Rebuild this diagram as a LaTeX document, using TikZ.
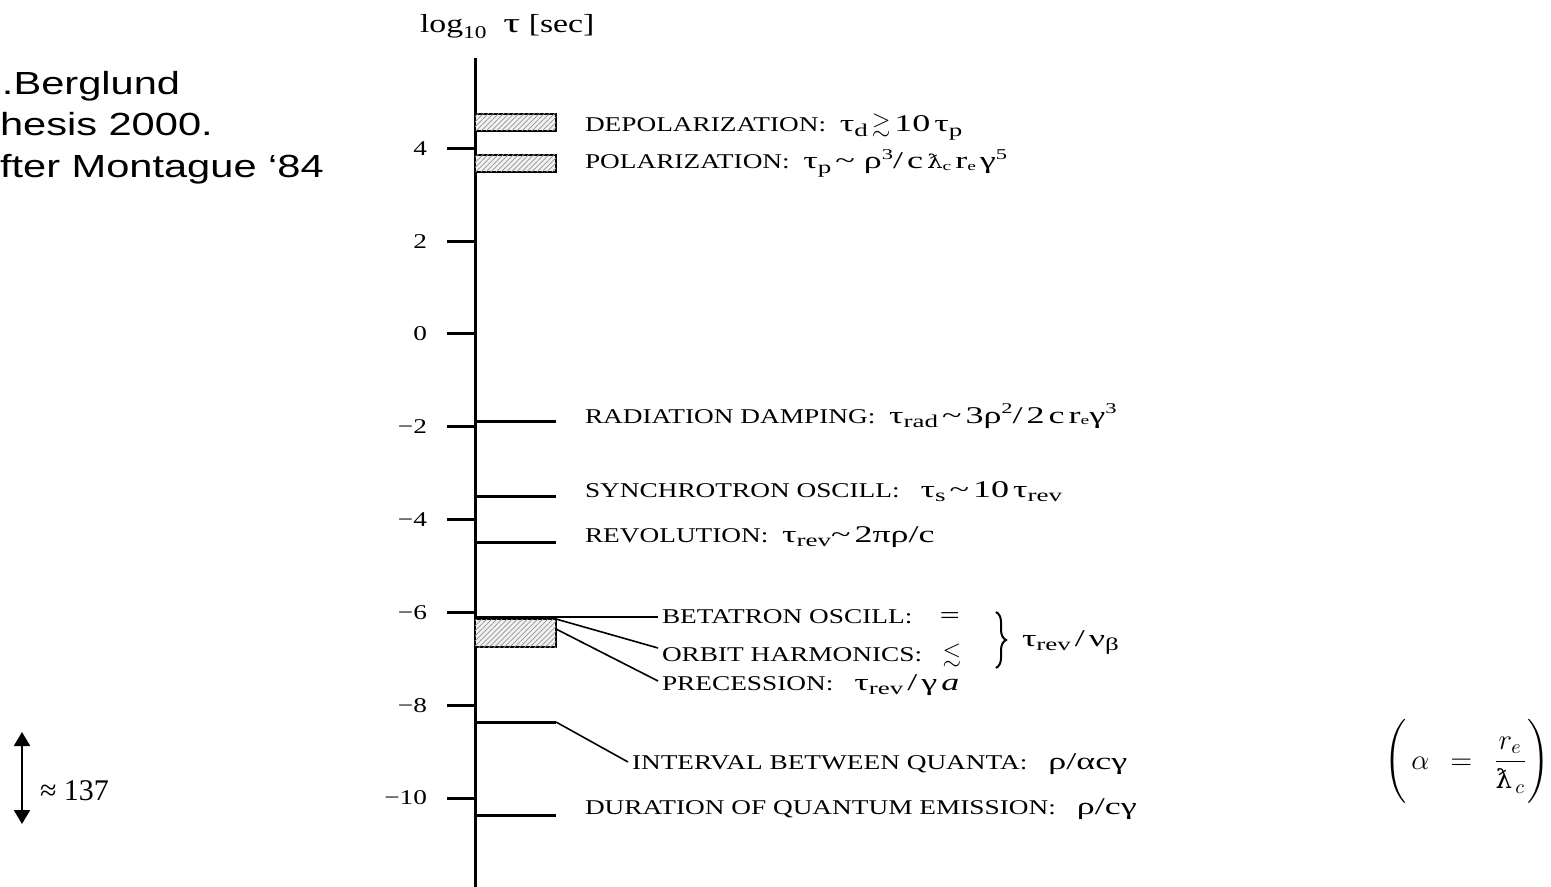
\documentclass[tikz,border=0pt]{standalone}
\usepackage{amsmath}
\usepackage{amssymb}
\usepackage{fontspec}
\usepackage{graphicx}
\setmainfont{Liberation Serif}[FakeStretch=1.3]
\newfontfamily\arialf{Liberation Sans}[FakeStretch=1.3]
\newfontfamily\fmf{Liberation Serif}[FakeStretch=1.5]
\newfontfamily\tnr{Liberation Serif}
\newfontfamily\djs{DejaVu Serif}[FakeStretch=1.3]
\newfontfamily\djsn{DejaVu Serif}
\usetikzlibrary{patterns.meta,decorations.pathreplacing,arrows.meta}
\newcommand{\fm}[1]{{\fmf\fontsize{12}{14}\selectfont #1}}
\newcommand{\dn}[1]{\raisebox{-0.45ex}{\fontsize{9}{9}\selectfont #1}}
\newcommand{\sdn}[1]{\raisebox{-0.15ex}{\fontsize{6.5}{6.5}\selectfont #1}}
\newcommand{\upx}[1]{\raisebox{0.85ex}{\fontsize{7.5}{7.5}\selectfont #1}}
\newcommand{\tld}{\textasciitilde}
\newcommand{\lbar}{{\djs\fontsize{9.5}{9.5}\selectfont ƛ}}
\newcommand{\lbarm}{\mbox{\djsn\fontsize{13}{13}\selectfont ƛ}}
\begin{document}
\begin{tikzpicture}[x=0.5pt,y=-0.5pt,
  every node/.style={inner sep=0pt,outer sep=0pt},
  lab/.style={anchor=base west,font=\fontsize{10.5}{12}\selectfont},
  ticklab/.style={anchor=east,font=\fontsize{10.5}{12}\selectfont},
  axisline/.style={line width=1.5pt},
  thinline/.style={line width=0.8pt},
  hatchbox/.style={draw=black,line width=0.9pt,fill=gray!10,
    postaction={pattern={Lines[angle=45,distance=1.8pt,line width=0.35pt]},pattern color=gray!85}}]
\useasboundingbox (0,0) rectangle (1551,887);

% top-left note
\node[anchor=base west,font=\arialf\fontsize{16}{19}\selectfont] (n1) at (2,95) {.Berglund};
\node[anchor=base west,font=\arialf\fontsize{16}{19}\selectfont] (n2) at (0,136) {hesis 2000.};
\node[anchor=base west,font=\arialf\fontsize{16}{19}\selectfont] (n3) at (0,178) {fter Montague ‘84};

% axis
\node[anchor=base west,font=\fontsize{13}{15}\selectfont] (ylab) at (420,33) {log\dn{10}\ \ \fm{\fontsize{14}{16}\selectfont τ}\ [sec]};
\coordinate (axtop) at (475,58);
\coordinate (axbot) at (475,887);
\draw[axisline] (axtop) -- (axbot);

\foreach \v/\t in {4/4,2/2,0/0,-2/−2,-4/−4,-6/−6,-8/−8,-10/−10}{
  \coordinate (tk\v) at (447,{334-46.4*\v});
  \coordinate (ta\v) at (475,{334-46.4*\v});
  \draw[axisline] (tk\v) -- (ta\v);
  \node[ticklab] (tl\v) at (427,{334-46.4*\v}) {\t};
}

% hatched boxes
\coordinate (b1a) at (475,114); \coordinate (b1b) at (556,131);
\draw[hatchbox] (b1a) rectangle (b1b);
\coordinate (b2a) at (475,155); \coordinate (b2b) at (556,172);
\draw[hatchbox] (b2a) rectangle (b2b);
\coordinate (b3a) at (475,619); \coordinate (b3b) at (556,647);
\draw[hatchbox] (b3a) rectangle (b3b);

\node[lab] (dep) at (585,132) {DEPOLARIZATION:\ \ \fm{τ\dn{d}\,$\gtrsim$\,10\,τ\dn{p}}};
\node[lab] (pol) at (585,169) {POLARIZATION:\ \ \fm{τ\dn{p}\,\tld\ ρ\upx{3}/\,c\,\lbar\sdn{c}\,r\sdn{e}\,γ\upx{5}}};

% level lines
\coordinate (r0) at (475,421); \coordinate (r1) at (556,421);
\draw[axisline] (r0) -- (r1);
\node[lab] (rad) at (585,423) {RADIATION DAMPING:\ \ \fm{τ\dn{rad}\,\tld\,3ρ\upx{2}/\,2\,c\,r\sdn{e}γ\upx{3}}};

\coordinate (s0) at (475,496); \coordinate (s1) at (556,496);
\draw[axisline] (s0) -- (s1);
\node[lab] (syn) at (585,497) {SYNCHROTRON OSCILL:\quad \fm{τ\dn{s}\,\tld\,10\,τ\dn{rev}}};

\coordinate (v0) at (475,542); \coordinate (v1) at (556,542);
\draw[axisline] (v0) -- (v1);
\node[lab] (rev) at (585,542) {REVOLUTION:\ \ \fm{τ\dn{rev}\tld\,2πρ/c}};

% betatron group
\node[lab] (bet) at (662,623) {BETATRON OSCILL:\ \ \ \ \fm{=}};
\node[lab] (orb) at (662,661) {ORBIT HARMONICS:\ \ \ \fm{$\lesssim$}};
\node[lab] (pre) at (662,690) {PRECESSION:\quad \fm{τ\dn{rev}\,/\,γ\,\textit{a}}};
\coordinate (bt0) at (475,617); \coordinate (bt1) at (658,617); \coordinate (bt2) at (615,617);
\draw[line width=0.6pt] (bt0) -- (bt1);
\draw[line width=1.2pt] (bt2) -- (bt1);
\coordinate (c1) at (556,619); \coordinate (c1e) at (658,648);
\coordinate (c2) at (556,629); \coordinate (c2e) at (658,681);
\draw[thinline] (c1) -- (c1e);
\draw[thinline] (c2) -- (c2e);
\coordinate (br1) at (996,612); \coordinate (br2) at (996,668);
\draw[line width=1pt,decorate,decoration={brace,amplitude=5pt}] (br1) -- (br2);
\node[lab] (tnu) at (1022,646) {\fm{τ\dn{rev}\,/\,ν\dn{β}}};

% quanta
\coordinate (q0) at (475,722); \coordinate (q1) at (556,722); \coordinate (q2) at (628,762);
\draw[axisline] (q0) -- (q1);
\draw[thinline] (q1) -- (q2);
\node[lab] (int) at (632,769) {INTERVAL BETWEEN QUANTA:\quad \fm{ρ/αcγ}};

\coordinate (d0) at (475,815); \coordinate (d1) at (556,815);
\draw[axisline] (d0) -- (d1);
\node[lab] (dur) at (585,814) {DURATION OF QUANTUM EMISSION:\quad \fm{ρ/cγ}};

% ratio arrow
\coordinate (ar1) at (22,732); \coordinate (ar2) at (22,824);
\draw[line width=1pt,{Triangle[length=7pt,width=8pt]}-{Triangle[length=7pt,width=8pt]}] (ar1) -- (ar2);
\node[anchor=base west,font=\tnr\fontsize{15}{17}\selectfont] (r137) at (40,800) {≈ 137};

% alpha formula
\node (alf) at (1467,763) {\fontsize{14}{16}\selectfont$\left(\,\alpha\;\,=\;\,\dfrac{r_e}{\lbarm_{\,c}}\vrule height 25pt depth 19pt width 0pt\right)$};
\end{tikzpicture}
\end{document}
